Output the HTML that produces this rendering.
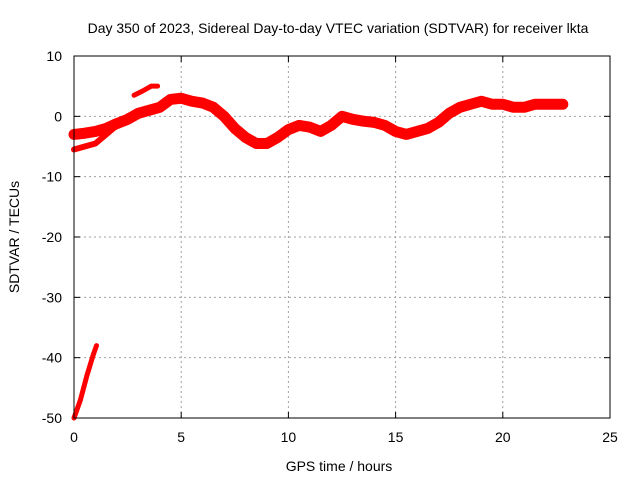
<!DOCTYPE html>
<html><head><meta charset="utf-8"><style>
body{margin:0;background:#fff;}
svg text{font-family:"Liberation Sans",sans-serif;font-size:14px;fill:#000;}
</style></head><body>
<svg id="chart" width="640" height="480">
<text x="338" y="33" text-anchor="middle">Day 350 of 2023, Sidereal Day-to-day VTEC variation (SDTVAR) for receiver lkta</text>
<g id="grid"></g>
<g id="series"></g>
<rect x="74" y="56" width="536" height="362" fill="none" stroke="#000"/>
<g id="axes"></g>
<text x="339" y="471" text-anchor="middle">GPS time / hours</text>
<text transform="translate(19,237) rotate(-90)" text-anchor="middle">SDTVAR / TECUs</text>
</svg>
<script>
const xTicks=[0,5,10,15,20,25];
const yTicks=[10,0,-10,-20,-30,-40,-50];
const mainH=[0,0.5,1,1.5,2,2.5,3,3.5,4,4.5,5,5.5,6,6.5,7,7.5,8,8.5,9,9.5,10,10.5,11,11.5,12,12.5,13,13.5,14,14.5,15,15.5,16,16.5,17,17.5,18,18.5,19,19.5,20,20.5,21,21.5,22,22.5,22.8];
const mainV=[-3,-2.8,-2.5,-2,-1.2,-0.5,0.5,1,1.5,2.8,3,2.5,2.2,1.5,0,-2,-3.5,-4.5,-4.5,-3.5,-2.2,-1.5,-1.8,-2.5,-1.5,0,-0.5,-0.8,-1,-1.5,-2.5,-3,-2.5,-2,-1,0.5,1.5,2,2.5,2,2,1.5,1.5,2,2,2,2];
const upperH=[2.8,3.2,3.6,3.9];
const upperV=[3.5,4.2,5,5];
const lowerH=[0,0.5,1,1.5,2,2.5];
const lowerV=[-5.5,-5,-4.5,-3,-1.5,0];
const steepH=[0,0.3,0.6,0.9,1.05];
const steepV=[-50,-47,-43,-39.5,-38];
const xs=h=>74+h*536/25, ys=v=>56+(10-v)*362/60;
const NS='http://www.w3.org/2000/svg';
function mk(t,a,p){const e=document.createElementNS(NS,t);for(const k in a)e.setAttribute(k,a[k]);p.appendChild(e);return e;}
const grid=document.getElementById('grid'),axes=document.getElementById('axes'),ser=document.getElementById('series');
xTicks.forEach(t=>{const x=xs(t);
 if(t>0&&t<25){const g=mk('line',{x1:x,x2:x,y1:56,y2:418,stroke:'#a0a0a0','stroke-dasharray':'2,3'},grid);
 }
 const l=mk('text',{x:x,y:442,'text-anchor':'middle'},axes);l.textContent=t;
 
 mk('line',{x1:x,x2:x,y1:418,y2:412,stroke:'#000'},axes);mk('line',{x1:x,x2:x,y1:56,y2:62,stroke:'#000'},axes);});
yTicks.forEach(t=>{const y=ys(t);
 if(t<10&&t>-50){const g=mk('line',{x1:74,x2:610,y1:y,y2:y,stroke:'#a0a0a0','stroke-dasharray':'2,3'},grid);
 }
 const l=mk('text',{x:62,y:y+5,'text-anchor':'end'},axes);l.textContent=t;
 
 mk('line',{x1:74,x2:80,y1:y,y2:y,stroke:'#000'},axes);mk('line',{x1:610,x2:604,y1:y,y2:y,stroke:'#000'},axes);});
function draw(H,V,name,w){const pts=H.map((h,i)=>xs(h)+','+ys(V[i])).join(' ');
 const p=mk('polyline',{points:pts,fill:'none',stroke:'#ff0000','stroke-width':w,'stroke-linejoin':'round','stroke-linecap':'round'},ser);
 }
draw(mainH,mainV,'sdtvar-main-track',11);
draw(upperH,upperV,'sdtvar-upper-track',5);
draw(lowerH,lowerV,'sdtvar-lower-track',6);
draw(steepH,steepV,'sdtvar-initial-ramp',5);
</script>
</body></html>
